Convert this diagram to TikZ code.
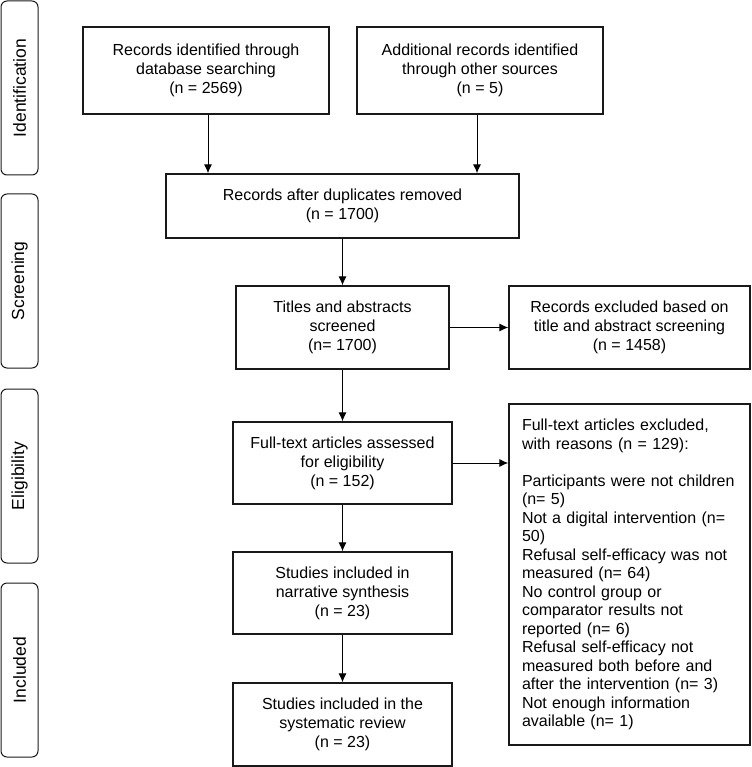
\documentclass[tikz,border=0pt]{standalone}
\usepackage{fontspec}
\setmainfont{Liberation Sans}
\usetikzlibrary{arrows.meta}
\begin{document}
\begin{tikzpicture}[x=1pt,y=-1pt,
  box/.style={draw=black!90, line width=1.3pt, inner sep=0pt, align=center,
    font=\fontsize{16}{19}\selectfont},
  lbox/.style={draw=black!90, line width=1.3pt, inner sep=0pt, align=left,
    font=\fontsize{16}{18.5}\selectfont},
  phase/.style={draw=black!90, line width=1pt, rounded corners=6pt, inner sep=0pt,
    minimum width=37pt, minimum height=174pt},
  phasetext/.style={rotate=90, font=\fontsize{17.5}{20}\selectfont},
  arr/.style={draw=black, line width=1pt, -{Latex[length=9pt,width=8pt]}}]
\useasboundingbox (0,0) rectangle (751,767);

\node[phase] (p1) at (19.5,88) {};
\node[phasetext] (t1) at (p1.center) {Identification};
\node[phase] (p2) at (19.5,281) {};
\node[phasetext] (t2) at (p2.center) {Screening};
\node[phase] (p3) at (19.5,476) {};
\node[phasetext] (t3) at (p3.center) {Eligibility};
\node[phase] (p4) at (19.5,670) {};
\node[phasetext] (t4) at (p4.center) {Included};

\node[box, minimum width=246pt, minimum height=87pt] (A) at (206,70.5)
  {Records identified through\\database searching\\(n = 2569)};
\node[box, minimum width=246pt, minimum height=87pt] (B) at (480,70.5)
  {Additional records identified\\through other sources\\(n = 5)};
\node[box, minimum width=353pt, minimum height=64pt] (C) at (342.5,206)
  {Records after duplicates removed\\(n = 1700)};
\node[box, minimum width=213pt, minimum height=83pt] (D) at (342.5,327.5)
  {Titles and abstracts\\screened\\(n= 1700)};
\node[box, minimum width=241pt, minimum height=83pt] (F) at (629.5,327.5)
  {Records excluded based on\\title and abstract screening\\(n = 1458)};
\node[box, minimum width=219pt, minimum height=82pt] (E) at (342.5,463)
  {Full-text articles assessed\\for eligibility\\(n = 152)};
\node[lbox, minimum width=241pt, minimum height=341pt, text width=215pt] (G) at (629.5,574.5)
  {Full-text articles excluded,\\with reasons (n = 129):\\\mbox{}\\
   Participants were not children\\(n= 5)\\
   Not a digital intervention (n=\\50)\\
   Refusal self-efficacy was not\\measured (n= 64)\\
   No control group or\\comparator results not\\reported (n= 6)\\
   Refusal self-efficacy not\\measured both before and\\after the intervention (n= 3)\\
   Not enough information\\available (n= 1)};
\node[box, minimum width=219pt, minimum height=82pt] (H) at (342.5,593)
  {Studies included in\\narrative synthesis\\(n = 23)};
\node[box, minimum width=219pt, minimum height=83pt] (I) at (342.5,724.5)
  {Studies included in the\\systematic review\\(n = 23)};

\coordinate (a1) at ([xshift=2pt]A.south);
\coordinate (b1) at ([xshift=-3pt]B.south);
\draw[arr] (a1) -- (a1 |- C.north);
\draw[arr] (b1) -- (b1 |- C.north);
\draw[arr] (C.south) -- (D.north);
\draw[arr] (D.east) -- (F.west);
\draw[arr] (D.south) -- (E.north);
\draw[arr] (E.east) -- (E.east -| G.west);
\draw[arr] (E.south) -- (H.north);
\draw[arr] (H.south) -- (I.north);
\end{tikzpicture}
\end{document}
